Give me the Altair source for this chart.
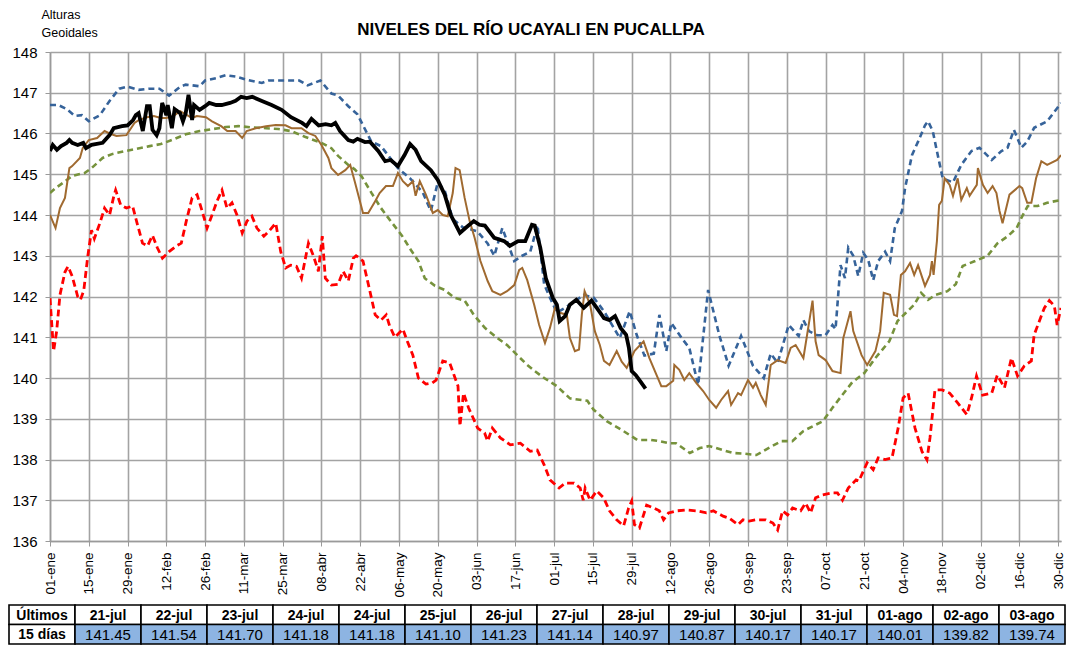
import altair as alt
import pandas as pd

chart_title = "NIVELES DEL RÍO UCAYALI EN PUCALLPA"
y_title = ["Alturas", "Geoidales"]

tick_days = [0, 14, 28, 42, 56, 70, 84, 98, 112, 126, 140, 154, 168, 182, 196,
             210, 224, 238, 252, 266, 280, 294, 308, 322, 336, 350, 364]
tick_labels = ["01-ene", "15-ene", "29-ene", "12-feb", "26-feb", "11-mar", "25-mar",
               "08-abr", "22-abr", "06-may", "20-may", "03-jun", "17-jun", "01-jul",
               "15-jul", "29-jul", "12-ago", "26-ago", "09-sep", "23-sep", "07-oct",
               "21-oct", "04-nov", "18-nov", "02-dic", "16-dic", "30-dic"]
y_ticks = [136, 137, 138, 139, 140, 141, 142, 143, 144, 145, 146, 147, 148]

# (day of year index, level in m)
serie_max = [(0,146.7),(3,146.7),(6,146.6),(9,146.43),(11.5,146.45),(14,146.3),(18,146.45),(21.5,146.8),
    (25,147.1),(28,147.15),(32,147.07),(36,147.1),(39.5,147.1),(43,146.93),(47,147.15),(49,147.2),
    (54,147.16),(56,147.3),(60,147.36),(63.5,147.43),(67,147.4),(71,147.32),(76.5,147.24),(79,147.3),
    (83.6,147.3),(90,147.3),(93,147.18),(97.6,147.3),(101.6,146.98),(104,146.93),(107.7,146.67),
    (111,146.47),(116,145.8),(119.5,145.69),(122,145.47),(125.6,145.15),(130,144.9),(134.6,144.55),
    (137.5,144.1),(140,144.8),(142.5,144.6),(145.4,143.9),(149,143.7),(154.3,143.6),(158,143.3),
    (160.4,143.0),(163.3,143.68),(167.6,142.87),(170.5,143.0),(173.4,143.1),(176,143.75),(178.4,142.3),
    (180.5,141.97),(183,141.6),(187.7,141.8),(192.7,142.04),(196.3,141.97),(200,141.64),(205.7,140.98),
    (209.3,141.64),(211.8,141.06),(214.6,140.55),(218,140.6),(220,141.55),(222.5,140.66),(224.3,141.35),
    (228.6,140.93),(230.8,140.74),(234,139.83),(237.6,142.16),(241.6,141.06),(245,140.3),(249.5,141.03),
    (253.8,140.3),(257.7,140.0),(260.2,140.6),(262.7,140.37),(266.7,141.3),(270.3,141.03),(272,141.42),
    (274,141.15),(277,141.05),(280,141.05),(282.5,141.3),(283.6,141.2),(285.4,142.77),(287,142.45),
    (288.2,143.2),(290,143.0),(291.8,142.5),(293.6,143.07),(295.4,142.9),(297.2,142.4),(299,142.87),
    (301.5,143.1),(303.3,142.87),(305,143.68),(307.6,144.1),(308.7,144.66),(311.2,145.47),(313.4,145.8),
    (315.9,146.2),(317,146.3),(318.7,146.06),(320.5,145.47),(322.3,144.9),(326,144.8),(329,145.23),
    (332.7,145.57),(335.6,145.65),(340,145.35),(343.5,145.57),(345.7,145.65),(348,146.09),(350.7,145.65),
    (352.8,145.8),(355.3,146.14),(360,146.3),(363.6,146.62),(365,146.75)]

serie_media = [(0,144.54),(2,144.66),(4.7,144.79),(8,144.96),(12.5,145.03),(15,145.15),(19,145.4),
    (22.6,145.5),(26,145.55),(31,145.62),(36,145.69),(40,145.74),(44,145.84),(49,145.98),(54,146.06),
    (58,146.1),(63.5,146.16),(68,146.18),(73,146.15),(78,146.13),(82.5,146.11),(87,146.06),(92,145.92),
    (98,145.77),(101.6,145.64),(104,145.45),(107.7,145.23),(110,145.12),(112.5,144.95),(116,144.55),
    (119.5,144.17),(123,143.85),(127,143.5),(130.3,143.14),(133,142.87),(135.3,142.45),(139,142.26),
    (142.5,142.16),(146,141.97),(149.7,141.9),(153,141.55),(157,141.23),(161.5,140.98),(165,140.81),
    (168.7,140.56),(172.3,140.32),(175,140.17),(178.4,140.0),(183,139.8),(187.7,139.5),(194,139.44),
    (196.3,139.22),(201,138.94),(207,138.7),(212,138.48),(217,138.48),(220,138.45),(223.5,138.4),
    (226,138.4),(231,138.16),(234.6,138.28),(238,138.33),(243,138.23),(246.6,138.16),(251,138.14),
    (255,138.11),(259.4,138.28),(264,138.45),(268,138.45),(272,138.7),(276.4,138.85),(279,138.94),
    (282.5,139.27),(286,139.58),(289.7,139.9),(294,140.12),(298,140.49),(303,140.9),(306,141.4),
    (309,141.6),(312,141.8),(314.5,142.09),(317,141.92),(319.7,142.04),(324,142.13),(327,142.3),
    (329.5,142.75),(334,142.87),(338.5,143.0),(342,143.3),(345.6,143.47),(349,143.68),(350.7,143.93),
    (353,144.22),(356.5,144.22),(360,144.3),(365,144.37)]

serie_min = [(0,141.96),(1.3,140.66),(2.4,141.15),(3.6,142.04),(5.4,142.6),(6.5,142.74),(8,142.5),
    (10,142.0),(11,141.92),(12.2,142.15),(13.6,142.97),(15,143.63),(16,143.42),(18,143.8),(19.7,144.17),
    (21.5,144.0),(23,144.45),(23.7,144.61),(25.5,144.25),(27.6,144.17),(29.8,144.22),(31.6,143.76),
    (33.4,143.31),(35.2,143.24),(37,143.5),(38.8,143.19),(40.6,142.94),(43,143.1),(45.6,143.24),
    (47.4,143.31),(49.2,143.85),(51.3,144.42),(53.1,144.5),(54.9,144.1),(56.7,143.68),(58.5,144.0),
    (60.3,144.34),(62.1,144.61),(63.9,144.17),(65.7,144.3),(67.5,144.0),(69.4,143.56),(71.1,143.85),
    (72.9,143.97),(74.7,143.68),(77.2,143.48),(79,143.6),(81.5,143.8),(83.3,143.1),(85.1,142.7),
    (86.9,142.77),(89,142.74),(90.8,142.45),(93.3,143.31),(95.1,143.0),(96.9,142.62),(98.3,143.48),
    (99.4,142.45),(101.6,142.28),(104,142.3),(105.8,142.62),(107.7,142.38),(109.5,142.94),(110.5,143.0),
    (113,142.87),(115.5,142.13),(117.4,141.55),(119.5,141.42),(121.4,141.55),(122.6,141.28),(124.5,141.0),
    (127.4,141.2),(129,140.9),(131,140.56),(133,140.0),(135.7,139.85),(138,139.88),(139.4,139.95),
    (141.8,140.42),(144.3,140.37),(147.3,139.8),(148,138.82),(149.3,139.63),(151.1,139.27),(154.4,138.77),
    (156.9,138.65),(158,138.45),(159.7,138.77),(162.6,138.53),(166.2,138.36),(169.8,138.4),(173.4,138.2),
    (175.9,138.23),(178.4,137.87),(180.5,137.5),(183.8,137.3),(186,137.42),(189.2,137.42),(191.4,137.3),
    (192.5,137.0),(193.2,137.3),(195,137.0),(197.4,137.23),(199.9,137.06),(202,136.74),(204.6,136.52),
    (207.1,136.37),(208.9,136.81),(210,136.98),(211,136.4),(212.8,136.32),(215.4,136.88),(217.9,136.81),
    (220,136.74),(221.5,136.52),(223.3,136.69),(226.2,136.74),(229.8,136.76),(233.4,136.74),(237,136.69),
    (239.5,136.74),(243,136.61),(245.2,136.56),(248.4,136.4),(250.2,136.52),(252.4,136.49),(254.9,136.52),
    (258.4,136.52),(261,136.44),(262.7,136.27),(264.5,136.74),(266.3,136.64),(268.1,136.81),(271,136.74),
    (272.8,136.93),(274.6,136.69),(276.4,137.06),(278.9,137.13),(282.5,137.18),(284.3,137.18),(286.1,137.0),
    (288.2,137.3),(291,137.5),(292,137.47),(295,137.92),(297.2,137.75),(299,138.04),(301.5,138.0),
    (304,138.04),(306.2,138.77),(308,139.51),(309.8,139.63),(312.3,138.77),(314.8,138.2),(316.6,137.99),
    (317.7,138.53),(319.5,139.71),(322,139.71),(324.8,139.63),(327.7,139.39),(331,139.1),(332.7,139.51),
    (334.5,140.05),(336.7,139.58),(340,139.63),(342,140.07),(344.6,139.76),(347.1,140.49),(349.3,140.05),
    (351.8,140.3),(354.3,140.42),(355.3,141.06),(357.2,141.4),(359,141.72),(360.8,141.9),(362.6,141.77),
    (363.6,141.3),(365,141.72)]

serie_anterior = [(0,144.0),(2,143.68),(3.6,144.17),(5.4,144.42),(7,145.15),(8,145.2),(10.8,145.4),
    (11.8,145.64),(14,145.84),(17,145.89),(19.7,146.06),(21.5,146.0),(24,145.94),(27.6,145.96),
    (30.5,146.26),(32,146.33),(35,146.4),(37.5,146.43),(40,146.38),(42,146.38),(44.5,146.43),(47,146.55),
    (49.5,146.45),(51.3,146.38),(53,146.43),(56.3,146.4),(58.5,146.3),(61.8,146.18),(64,146.06),(67,146.06),
    (69.4,145.89),(71,146.06),(74.3,146.13),(78,146.18),(81.5,146.21),(85,146.2),(87.2,146.13),
    (90.8,146.13),(93.3,146.01),(95.8,145.94),(98,145.72),(100.5,145.4),(101.6,145.15),(104,144.98),
    (106.6,145.1),(108.4,145.23),(110,144.83),(113,144.05),(114.9,144.05),(117.4,144.34),(119,144.54),
    (121.3,144.71),(123.8,144.71),(125.6,145.03),(127.4,144.83),(129.2,144.71),(131,144.83),(132,144.47),
    (133.5,144.83),(135.7,144.5),(138.2,144.05),(140,144.12),(141.8,144.0),(143.6,143.97),(145.4,144.54),
    (146.4,145.15),(147.9,145.1),(149.7,144.42),(151.5,143.85),(153.3,143.44),(155.4,142.87),(158,142.38),
    (159.7,142.13),(162.6,142.04),(165,142.13),(167.6,142.28),(169.4,142.65),(170.5,142.7),(172.3,142.4),
    (174.8,141.8),(176.6,141.3),(178.7,140.86),(180.5,141.23),(182.3,141.72),(184.1,141.6),(186.6,141.55),
    (187.7,140.98),(189.5,140.66),(191,140.7),(192,141.55),(193,142.13),(195,141.8),(196.7,141.15),
    (198.5,140.81),(200,140.42),(202,140.32),(204.6,140.66),(206.4,140.4),(208.2,140.25),(211,140.66),
    (214.3,140.9),(216.4,140.49),(219,140.07),(220.7,139.8),(222.5,139.8),(225,139.93),(225.4,140.32),
    (227.2,140.2),(229,139.95),(230.8,140.12),(233.3,139.88),(235.8,139.68),(238,139.46),(240.5,139.27),
    (242.3,139.46),(244.8,139.68),(245.9,139.34),(248.4,139.63),(249.5,139.58),(252,139.95),(253.8,139.76),
    (254.8,139.88),(256.6,139.58),(258.4,139.34),(260.2,140.32),(262.7,140.44),(265.6,140.37),
    (267.4,140.74),(269.2,140.81),(272,140.49),(275.3,141.9),(276.4,140.9),(277.5,140.56),(280,140.44),
    (282.5,140.17),(285.4,140.12),(286.4,140.98),(289,141.64),(290,141.15),(293,140.56),(295,140.32),
    (298,140.66),(299.7,141.15),(301,142.09),(303.3,142.04),(304.7,141.55),(305.8,141.52),(307.2,142.53),
    (308.7,142.62),(310.5,142.82),(312,142.53),(313.4,142.77),(315.9,142.26),(317.7,142.53),(318.4,142.87),
    (319,142.53),(320.2,143.36),(321,144.25),(322,144.35),(323,144.9),(324.8,144.74),(326,144.47),
    (327.7,144.9),(329,144.37),(331,144.66),(332,144.47),(334.6,144.74),(335,145.15),(336.8,144.74),
    (338.5,144.54),(340.3,144.71),(341.7,144.54),(342.8,144.1),(343.9,143.8),(346.4,144.5),(350,144.71),
    (351,144.66),(352.8,144.3),(354.3,144.3),(356,144.9),(357.9,145.32),(360,145.23),(363.6,145.35),
    (365,145.47)]

serie_actual = [(0,145.57),(1,145.72),(2.5,145.6),(4,145.69),(6,145.77),(7,145.84),(8,145.77),(10,145.72),
    (12,145.77),(13,145.64),(15,145.72),(19,145.77),(21.5,145.96),(23,146.13),(26,146.18),(28,146.2),
    (30,146.33),(31,146.45),(32,146.5),(33.5,146.06),(35,146.67),(36,146.67),(37,146.09),(38.5,145.96),
    (39.5,146.13),(40.5,146.75),(42,146.45),(42.5,146.7),(44,146.13),(45,146.6),(47,146.5),(48,146.3),
    (49,146.5),(50,146.95),(51.3,146.33),(52,146.7),(54,146.58),(56,146.67),(57.5,146.75),(60,146.7),
    (62,146.7),(65,146.75),(67,146.8),(69,146.9),(71,146.87),(73,146.9),(76.5,146.8),(80,146.7),
    (83.6,146.58),(87,146.4),(91,146.26),(92.6,146.18),(94.4,146.36),(97,146.2),(99.5,146.23),
    (101.6,146.2),(103,146.26),(104.7,146.06),(107.7,145.84),(109.5,145.8),(111,145.87),(113.7,145.79),
    (115.5,145.8),(118.5,145.57),(121,145.32),(123,145.35),(125.6,145.2),(128,145.47),(130,145.74),
    (132,145.6),(134,145.32),(137.5,145.1),(140,144.86),(142.5,144.5),(144.7,144.0),(148,143.56),
    (150,143.68),(153,143.85),(155,143.76),(157,143.74),(160.4,143.44),(164,143.36),(166,143.24),
    (169,143.36),(171.6,143.36),(174,143.76),(175,143.74),(177,143.2),(179,142.45),(181.5,141.97),
    (183,141.8),(184,141.4),(186,141.52),(187.7,141.8),(190,141.92),(192.7,141.72),(195.5,141.9),
    (197.4,141.72),(200,141.47),(202,141.42),(204,141.52),(206,141.23),(208,141.06),(209,140.74),
    (210,140.17),(211.5,140.07),(213,139.93),(215,139.74)]

table_dates = ["21-jul", "22-jul", "23-jul", "24-jul", "24-jul", "25-jul", "26-jul", "27-jul",
               "28-jul", "29-jul", "30-jul", "31-jul", "01-ago", "02-ago", "03-ago"]
table_values = [141.45, 141.54, 141.70, 141.18, 141.18, 141.10, 141.23, 141.14,
                140.97, 140.87, 140.17, 140.17, 140.01, 139.82, 139.74]
table_row_labels = ["Últimos", "15 días"]

W, H = 1011, 489
FONT = "Liberation Sans"
NARROW = "Liberation Sans Narrow, Arial Narrow, Liberation Sans"

def frame(pairs):
    return pd.DataFrame(pairs, columns=["dia", "nivel"])

label_expr = "[" + ",".join("'%s'" % t for t in tick_labels) + "][round(datum.value/14)]"

x_line = alt.X("dia:Q", scale=alt.Scale(domain=[0, 365], nice=False, zero=False),
               axis=alt.Axis(values=tick_days, labelExpr=label_expr, labelAngle=-90,
                             labelFontSize=13.5, labelFont=FONT, labelColor="black",
                             labelPadding=6, tickSize=5, tickColor="#9a9a9a",
                             grid=True, gridColor="#a3a3a3", gridWidth=1.6,
                             domainColor="#9a9a9a", domainWidth=1.5, title=None))
y_line = alt.Y("nivel:Q", scale=alt.Scale(domain=[136, 148], nice=False, zero=False),
               axis=alt.Axis(values=y_ticks, format="d", labelFontSize=15, labelFont=FONT,
                             labelColor="black", labelPadding=8, tickSize=5, tickColor="#9a9a9a",
                             grid=True, gridColor="#a3a3a3", gridWidth=1.6,
                             domainColor="#9a9a9a", domainWidth=1.5,
                             title=y_title, titleAngle=0, titleAlign="left", titleBaseline="top",
                             titleX=-9, titleY=-44, titleFont=FONT, titleFontSize=12.5,
                             titleFontWeight="normal", titleColor="black", titleLineHeight=18))

def line(pairs, color, width, dash=None):
    kw = dict(color=color, strokeWidth=width, clip=True)
    if dash:
        kw["strokeDash"] = dash
    return alt.Chart(frame(pairs)).mark_line(**kw).encode(x=x_line, y=y_line)

lines = alt.layer(
    line(serie_min, "#ff0000", 2.8, [7, 4]),
    line(serie_media, "#76923c", 2.6, [6, 4]),
    line(serie_max, "#36639a", 2.6, [6, 4]),
    line(serie_anterior, "#a06a30", 2.0),
    line(serie_actual, "#000000", 3.8),
)

# table cells
cells = []
for r, lab in enumerate(table_row_labels):
    cells.append(dict(c0=0, c1=1, r0=r, r1=r + 1, texto=lab, tipo="etiqueta"))
for i, (d, v) in enumerate(zip(table_dates, table_values)):
    cells.append(dict(c0=i + 1, c1=i + 2, r0=0, r1=1, texto=d, tipo="fecha"))
    cells.append(dict(c0=i + 1, c1=i + 2, r0=1, r1=2, texto="%.2f" % v, tipo="valor"))
tab = pd.DataFrame(cells)
tab["cm"] = (tab["c0"] + tab["c1"]) / 2
tab["rm"] = (tab["r0"] + tab["r1"]) / 2

xs = alt.Scale(domain=[0, 16], range=[-41, 1015], nice=False, zero=False)
ys = alt.Scale(domain=[0, 2], range=[553, 592], nice=False, zero=False)

rects = alt.Chart(tab).mark_rect(stroke="black", strokeWidth=1.6).encode(
    x=alt.X("c0:Q", scale=xs, axis=None), x2="c1:Q",
    y=alt.Y("r0:Q", scale=ys, axis=None), y2="r1:Q",
    color=alt.Color("tipo:N", scale=alt.Scale(domain=["etiqueta", "fecha", "valor"],
                                              range=["#ffffff", "#ffffff", "#8db4e2"]), legend=None),
)
txt_bold = alt.Chart(tab).transform_filter("datum.tipo != 'valor'").mark_text(
    font=NARROW, fontSize=14, fontWeight="bold", color="black", baseline="middle", align="center", dy=1
).encode(x=alt.X("cm:Q", scale=xs, axis=None), y=alt.Y("rm:Q", scale=ys, axis=None), text="texto:N")
txt_val = alt.Chart(tab).transform_filter("datum.tipo == 'valor'").mark_text(
    font=NARROW, fontSize=15, color="black", baseline="middle", align="center", dy=1
).encode(x=alt.X("cm:Q", scale=xs, axis=None), y=alt.Y("rm:Q", scale=ys, axis=None), text="texto:N")

table = alt.layer(rects, txt_bold, txt_val)

title = alt.Chart(pd.DataFrame({"t": [chart_title]})).mark_text(
    font=FONT, fontSize=17, fontWeight="bold", color="black", align="center", baseline="middle"
).encode(text="t:N", x=alt.value(481), y=alt.value(-22))

chart = alt.layer(lines, table, title).resolve_scale(x="independent", y="independent").properties(
    width=W, height=H, padding={"left": 0, "right": 0, "top": 0, "bottom": 0}
).configure_view(stroke=None)

chart.save("out.html", embed_options={"renderer": "svg", "actions": False})
